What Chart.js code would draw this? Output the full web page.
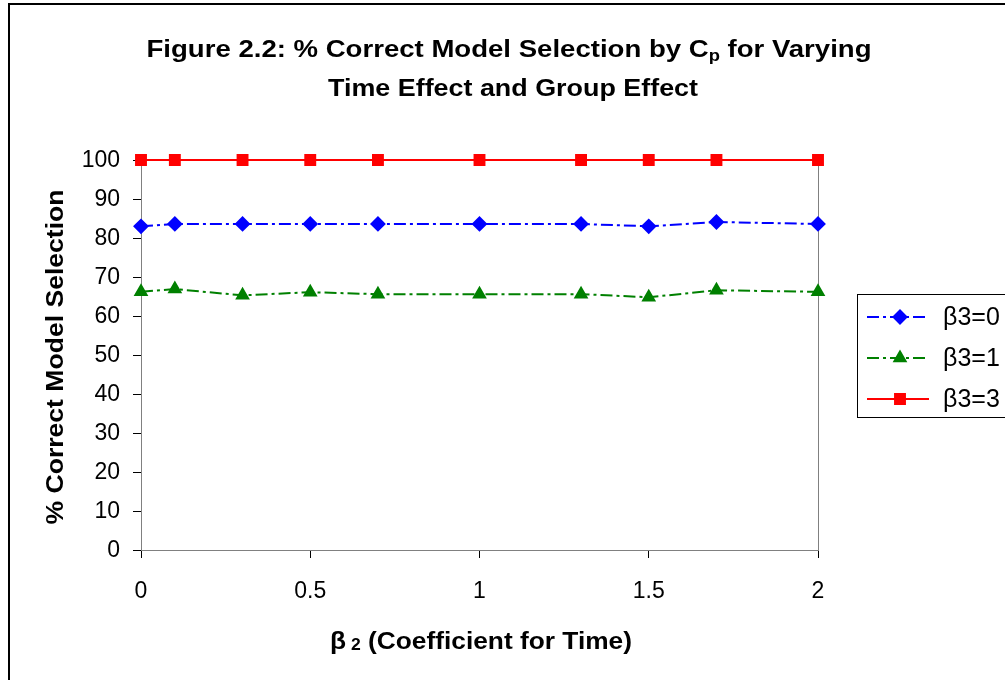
<!DOCTYPE html>
<html>
<head>
<meta charset="utf-8">
<script src="https://cdn.jsdelivr.net/npm/chart.js@4.4.1/dist/chart.umd.min.js"></script>
<style>
  html, body { margin: 0; padding: 0; background: #fff; }
  #wrap { width: 1005px; height: 680px; }
</style>
</head>
<body>
<div id="wrap"><canvas id="cpChart" width="1005" height="680"></canvas></div>
<script>
// beta2 values (coefficient for time) on the x axis
const beta2Values = [0, 0.1, 0.3, 0.5, 0.7, 1, 1.3, 1.5, 1.7, 2];

// % correct model selection for each group effect
const beta3Zero  = [83.0, 83.6, 83.6, 83.6, 83.6, 83.6, 83.6, 83.0, 84.1, 83.6];
const beta3One   = [66.2, 66.9, 65.3, 66.1, 65.6, 65.6, 65.6, 64.8, 66.6, 66.2];
const beta3Three = [100, 100, 100, 100, 100, 100, 100, 100, 100, 100];

const seriesLabels = ['\u03B23=0', '\u03B23=1', '\u03B23=3'];

const yMin = 0, yMax = 100, yStep = 10;
const xMin = 0, xMax = 2, xStep = 0.5;

const FONT = '"Liberation Sans", Arial, sans-serif';

function toPoints(ys) {
  return beta2Values.map((x, i) => ({ x: x, y: ys[i] }));
}

// draw a run of text pieces (some as subscripts) centred on cx,
// stretched horizontally so the run is `width` pixels wide
function drawRichText(ctx, pieces, cx, y, width) {
  let total = 0;
  pieces.forEach(p => {
    ctx.font = p.font;
    p.w = ctx.measureText(p.text).width;
    total += p.w;
  });
  const sx = width ? width / total : 1;
  ctx.save();
  ctx.translate(cx, y);
  ctx.scale(sx, 1);
  let x = -total / 2;
  ctx.textAlign = 'left';
  ctx.textBaseline = 'alphabetic';
  pieces.forEach(p => {
    ctx.font = p.font;
    ctx.fillText(p.text, x, p.dy || 0);
    x += p.w;
  });
  ctx.restore();
}

const decorations = {
  id: 'decorations',
  beforeDraw(chart) {
    const ctx = chart.ctx;
    ctx.save();
    ctx.fillStyle = '#fff';
    ctx.fillRect(0, 0, chart.width, chart.height);
    // outer frame
    ctx.strokeStyle = '#000';
    ctx.lineWidth = 2;
    ctx.strokeRect(9, 4, 1100, 800);
    ctx.restore();
  },
  beforeDatasetsDraw(chart) {
    const ctx = chart.ctx;
    const a = chart.chartArea;
    ctx.save();
    ctx.strokeStyle = '#808080';
    ctx.lineWidth = 1;
    ctx.strokeRect(a.left + 0.5, a.top + 0.5, a.right - a.left, a.bottom - a.top);
    ctx.restore();
  },
  afterDraw(chart) {
    const ctx = chart.ctx;
    ctx.save();
    ctx.fillStyle = '#000';

    // chart title
    const tb = 'bold 24px ' + FONT;
    const ts = 'bold 16px ' + FONT;
    drawRichText(ctx, [
      { text: 'Figure 2.2: % Correct Model Selection by C', font: tb },
      { text: 'p', font: ts, dy: 4 },
      { text: ' for Varying', font: tb }
    ], 509, 57, 725);
    drawRichText(ctx, [{ text: 'Time Effect and Group Effect', font: tb }], 513, 96, 370);

    // x axis title
    drawRichText(ctx, [
      { text: '\u03B2', font: tb },
      { text: ' 2', font: ts, dy: 1 },
      { text: ' (Coefficient for Time)', font: tb }
    ], 481, 649, 302);

    // y axis title
    ctx.save();
    ctx.translate(63, 357);
    ctx.rotate(-Math.PI / 2);
    drawRichText(ctx, [{ text: '% Correct Model Selection', font: tb }], 0, 0, 335);
    ctx.restore();

    // legend
    const lx = 857, ly = 294;
    ctx.strokeStyle = '#000';
    ctx.lineWidth = 1;
    ctx.strokeRect(lx + 0.5, ly + 0.5, 200, 123);
    chart.data.datasets.forEach((ds, i) => {
      const y = ly + 23 + i * 41;
      ctx.save();
      ctx.strokeStyle = ds.borderColor;
      ctx.lineWidth = ds.borderWidth;
      ctx.setLineDash(ds.borderDash || []);
      ctx.beginPath();
      ctx.moveTo(lx + 10, y);
      ctx.lineTo(lx + 72, y);
      ctx.stroke();
      ctx.setLineDash([]);
      ctx.fillStyle = ds.pointBackgroundColor;
      ctx.strokeStyle = ds.pointBorderColor;
      Chart.helpers.drawPoint(ctx, {
        pointStyle: ds.pointStyle,
        radius: ds.pointRadius,
        rotation: 0,
        borderWidth: 1
      }, lx + 43, y);
      ctx.restore();
      ctx.font = '25px ' + FONT;
      ctx.textAlign = 'left';
      ctx.textBaseline = 'middle';
      ctx.fillStyle = '#000';
      ctx.fillText(seriesLabels[i], lx + 86, y + 1);
    });
    ctx.restore();
  }
};

new Chart(document.getElementById('cpChart'), {
  type: 'line',
  data: {
    datasets: [
      {
        label: seriesLabels[0],
        data: toPoints(beta3Zero),
        borderColor: '#0000ff',
        borderWidth: 2,
        borderDash: [12, 4, 3, 4],
        pointStyle: 'rectRot',
        pointRadius: 6.5,
        pointBackgroundColor: '#0000ff',
        pointBorderColor: '#0000ff',
        clip: false
      },
      {
        label: seriesLabels[1],
        data: toPoints(beta3One),
        borderColor: '#008000',
        borderWidth: 2,
        borderDash: [12, 4, 3, 4],
        pointStyle: 'triangle',
        pointRadius: 6.5,
        pointBackgroundColor: '#008000',
        pointBorderColor: '#008000',
        clip: false
      },
      {
        label: seriesLabels[2],
        data: toPoints(beta3Three),
        borderColor: '#ff0000',
        borderWidth: 2,
        pointStyle: 'rect',
        pointRadius: 7,
        pointBackgroundColor: '#ff0000',
        pointBorderColor: '#ff0000',
        clip: false
      }
    ]
  },
  options: {
    responsive: false,
    animation: false,
    devicePixelRatio: 1,
    layout: { padding: { left: 0, right: 187, top: 160, bottom: 0 } },
    plugins: {
      legend: { display: false },
      title: { display: false },
      tooltip: { enabled: false }
    },
    scales: {
      x: {
        type: 'linear',
        min: xMin,
        max: xMax,
        afterFit(scale) { scale.height = 130; },
        ticks: {
          stepSize: xStep,
          color: '#000',
          font: { family: FONT, size: 23 },
          padding: 20,
          maxRotation: 0,
          callback: value => String(value)
        },
        grid: { drawOnChartArea: false, drawTicks: true, tickLength: 8, color: '#000' },
        border: { color: '#000', width: 1 }
      },
      y: {
        min: yMin,
        max: yMax,
        afterFit(scale) { scale.width = 141; },
        ticks: {
          stepSize: yStep,
          color: '#000',
          font: { family: FONT, size: 23 },
          padding: 13,
          labelOffset: 1,
          callback: value => String(value)
        },
        grid: { drawOnChartArea: false, drawTicks: true, tickLength: 8, color: '#000' },
        border: { color: '#000', width: 1 }
      }
    }
  },
  plugins: [decorations]
});
</script>
</body>
</html>
